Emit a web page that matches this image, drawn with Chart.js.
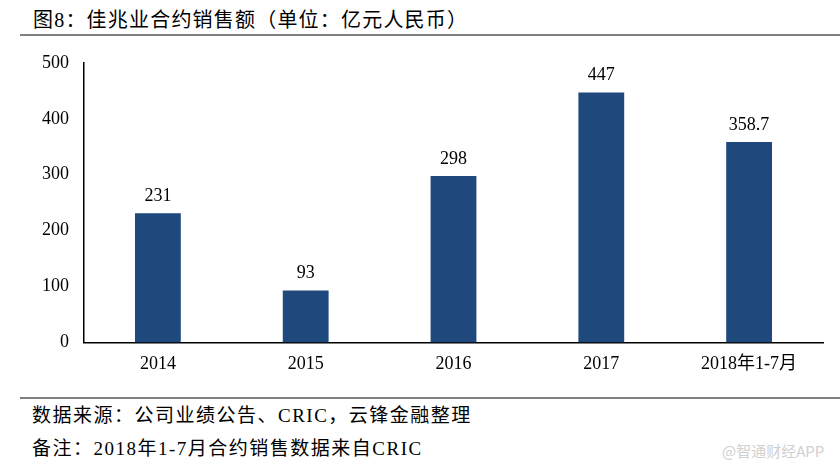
<!DOCTYPE html>
<html>
<head>
<meta charset="utf-8">
<script src="https://cdn.jsdelivr.net/npm/chart.js@4/dist/chart.umd.min.js"></script>
<style>
  html, body { margin: 0; padding: 0; background: #fff; }
  .page { position: relative; width: 840px; height: 467px; overflow: hidden;
    font-family: "Liberation Serif", "Noto Sans CJK SC", serif; color: #000; }
  .title { position: absolute; left: 33px; top: 4px; font-size: 20px; letter-spacing: 1.2px; white-space: nowrap; }
  .rule { position: absolute; left: 20px; width: 820px; height: 2px; background: #808080; }
  .note { position: absolute; left: 32px; font-size: 19px; letter-spacing: 1.5px; white-space: nowrap; }
  .mark { position: absolute; left: 722px; top: 440px; font-size: 15px; color: #d0d0d0;
    font-family: "Noto Sans CJK SC", sans-serif; white-space: nowrap; }
  .plot { position: absolute; left: 0; top: 0; width: 840px; height: 390px; }
</style>
</head>
<body>
<div class="page">
  <div class="title">图8：佳兆业合约销售额（单位：亿元人民币）</div>
  <div class="rule" style="top:34px"></div>
  <div class="plot"><canvas id="chart"></canvas></div>
  <div class="rule" style="top:397px"></div>
  <div class="note" style="top:400px">数据来源：公司业绩公告、CRIC，云锋金融整理</div>
  <div class="note" style="top:433px">备注：2018年1-7月合约销售数据来自CRIC</div>
  <div class="mark">@智通财经APP</div>
</div>
<script>
const years = ["2014", "2015", "2016", "2017", "2018年1-7月"];
const sales = [231, 93, 298, 447, 358.7];
const yTicks = [0, 100, 200, 300, 400, 500];

const fontFamily = '"Liberation Serif", "Noto Sans CJK SC", serif';

// value labels above each bar
const valueLabels = {
  id: "valueLabels",
  afterDatasetsDraw(chart) {
    const ctx = chart.ctx;
    const meta = chart.getDatasetMeta(0);
    ctx.save();
    ctx.font = "18px " + fontFamily;
    ctx.fillStyle = "#000";
    ctx.textAlign = "center";
    ctx.textBaseline = "bottom";
    meta.data.forEach((bar, i) => {
      ctx.fillText(String(sales[i]), bar.x, bar.y - 8);
    });
    ctx.restore();
  },
};

new Chart(document.getElementById("chart"), {
  type: "bar",
  data: {
    labels: years,
    datasets: [
      {
        data: sales,
        backgroundColor: "#1F497D",
        barPercentage: 0.31,
        categoryPercentage: 1,
      },
    ],
  },
  options: {
    responsive: true,
    maintainAspectRatio: false,
    animation: false,
    layout: { padding: { left: 27, right: 17, top: 63, bottom: 4 } },
    plugins: { legend: { display: false }, tooltip: { enabled: false } },
    scales: {
      x: {
        grid: { display: false, drawTicks: false },
        border: { display: true, color: "#000", width: 1.5 },
        ticks: { color: "#000", padding: 11, font: { family: fontFamily, size: 18 } },
      },
      y: {
        min: 0,
        max: 500,
        afterBuildTicks: (axis) => {
          axis.ticks = yTicks.map((v) => ({ value: v }));
        },
        grid: { display: false, drawTicks: false },
        border: { display: true, color: "#000", width: 1.5 },
        ticks: { color: "#000", padding: 15, font: { family: fontFamily, size: 18 } },
      },
    },
  },
  plugins: [valueLabels],
});
</script>
</body>
</html>
